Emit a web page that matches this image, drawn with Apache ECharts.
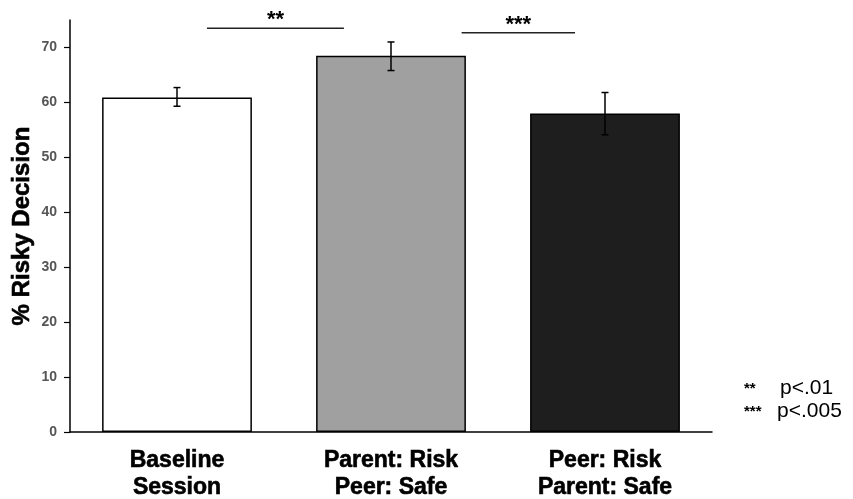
<!DOCTYPE html>
<html>
<head>
<meta charset="utf-8">
<script src="https://cdn.jsdelivr.net/npm/echarts@6/dist/echarts.min.js"></script>
<style>
  html, body { margin: 0; padding: 0; background: #fff; }
  #main { width: 853px; height: 499px; }
</style>
</head>
<body>
<div id="main"></div>
<script>
var categories = ['Baseline\nSession', 'Parent: Risk\nPeer: Safe', 'Peer: Risk\nParent: Safe'];
var values = [60.9, 68.5, 58.0];
var errLow = [59.3, 65.8, 54.1];
var errHigh = [62.7, 71.0, 61.8];
var barColors = ['#ffffff', '#a0a0a0', '#1e1e1e'];
var yTicks = [0, 10, 20, 30, 40, 50, 60, 70];

// significance brackets, x in category index units
var sigFrom = [0.14, 1.33];
var sigTo = [0.78, 1.86];
var sigY = [73.5, 72.7];
var sigStars = ['**', '***'];

var chart = echarts.init(document.getElementById('main'));

var option = {
  animation: false,
  grid: { left: 70, right: 141, top: 20, bottom: 67, outerBoundsMode: 'none', containLabel: false },
  xAxis: [
    {
      type: 'category',
      data: categories,
      axisLine: { lineStyle: { color: '#000', width: 1.5 } },
      axisTick: { show: false },
      axisLabel: {
        color: '#000',
        fontFamily: 'Liberation Sans, Arial, sans-serif',
        fontWeight: 'bold',
        fontSize: 23,
        lineHeight: 27,
        margin: 15,
        textBorderColor: '#000',
        textBorderWidth: 0.6
      }
    },
    { type: 'value', min: -0.5, max: 2.5, show: false }
  ],
  yAxis: {
    type: 'value',
    min: 0,
    max: 75,
    name: '% Risky Decision',
    nameLocation: 'middle',
    nameGap: 36,
    nameMoveOverlap: false,
    nameTextStyle: {
      color: '#000',
      fontFamily: 'Liberation Sans, Arial, sans-serif',
      fontWeight: 'bold',
      fontSize: 24,
      textBorderColor: '#000',
      textBorderWidth: 0.6
    },
    splitLine: { show: false },
    axisLine: { show: true, onZero: false, lineStyle: { color: '#000', width: 1.5 } },
    axisTick: { show: true, length: 6, customValues: yTicks, lineStyle: { color: '#000', width: 1.2 } },
    axisLabel: {
      customValues: yTicks,
      color: '#555',
      fontFamily: 'Liberation Sans, Arial, sans-serif',
      fontWeight: 'bold',
      fontSize: 14,
      margin: 13
    }
  },
  series: [
    {
      type: 'bar',
      barWidth: '70%',
      data: values.map(function (v, i) {
        return { value: v, itemStyle: { color: barColors[i] } };
      }),
      itemStyle: { borderColor: '#000', borderWidth: 1.5 }
    },
    {
      type: 'custom',
      data: errLow.map(function (lo, i) { return [i, lo, errHigh[i]]; }),
      renderItem: function (params, api) {
        var top = api.coord([api.value(0), api.value(2)]);
        var bot = api.coord([api.value(0), api.value(1)]);
        var w = 3.5;
        var st = { stroke: '#000', lineWidth: 1.5 };
        return {
          type: 'group',
          children: [
            { type: 'line', shape: { x1: top[0], y1: top[1], x2: bot[0], y2: bot[1] }, style: st },
            { type: 'line', shape: { x1: top[0] - w, y1: top[1], x2: top[0] + w, y2: top[1] }, style: st },
            { type: 'line', shape: { x1: bot[0] - w, y1: bot[1], x2: bot[0] + w, y2: bot[1] }, style: st }
          ]
        };
      },
      z: 5
    },
    {
      type: 'custom',
      xAxisIndex: 1,
      clip: false,
      data: sigFrom.map(function (f, i) { return [f, sigTo[i], sigY[i]]; }),
      renderItem: function (params, api) {
        var a = api.coord([api.value(0), api.value(2)]);
        var b = api.coord([api.value(1), api.value(2)]);
        return {
          type: 'group',
          children: [
            { type: 'line', shape: { x1: a[0], y1: a[1], x2: b[0], y2: b[1] }, style: { stroke: '#222', lineWidth: 1.5 } },
            {
              type: 'text',
              x: (a[0] + b[0]) / 2,
              y: a[1] - 8,
              style: {
                text: sigStars[params.dataIndex],
                fill: '#000',
                font: 'bold 22px Liberation Sans, Arial, sans-serif',
                align: 'center',
                verticalAlign: 'middle'
              }
            }
          ]
        };
      }
    }
  ],
  graphic: [
    { type: 'text', left: 744, top: 381, style: { text: '**', fill: '#000', font: 'bold 15px Liberation Sans, Arial, sans-serif' } },
    { type: 'text', left: 780, top: 378, style: { text: 'p<.01', fill: '#000', font: '21px Liberation Sans, Arial, sans-serif' } },
    { type: 'text', left: 744, top: 404, style: { text: '***', fill: '#000', font: 'bold 15px Liberation Sans, Arial, sans-serif' } },
    { type: 'text', left: 777, top: 401, style: { text: 'p<.005', fill: '#000', font: '21px Liberation Sans, Arial, sans-serif' } }
  ]
};

chart.setOption(option);
</script>
</body>
</html>
